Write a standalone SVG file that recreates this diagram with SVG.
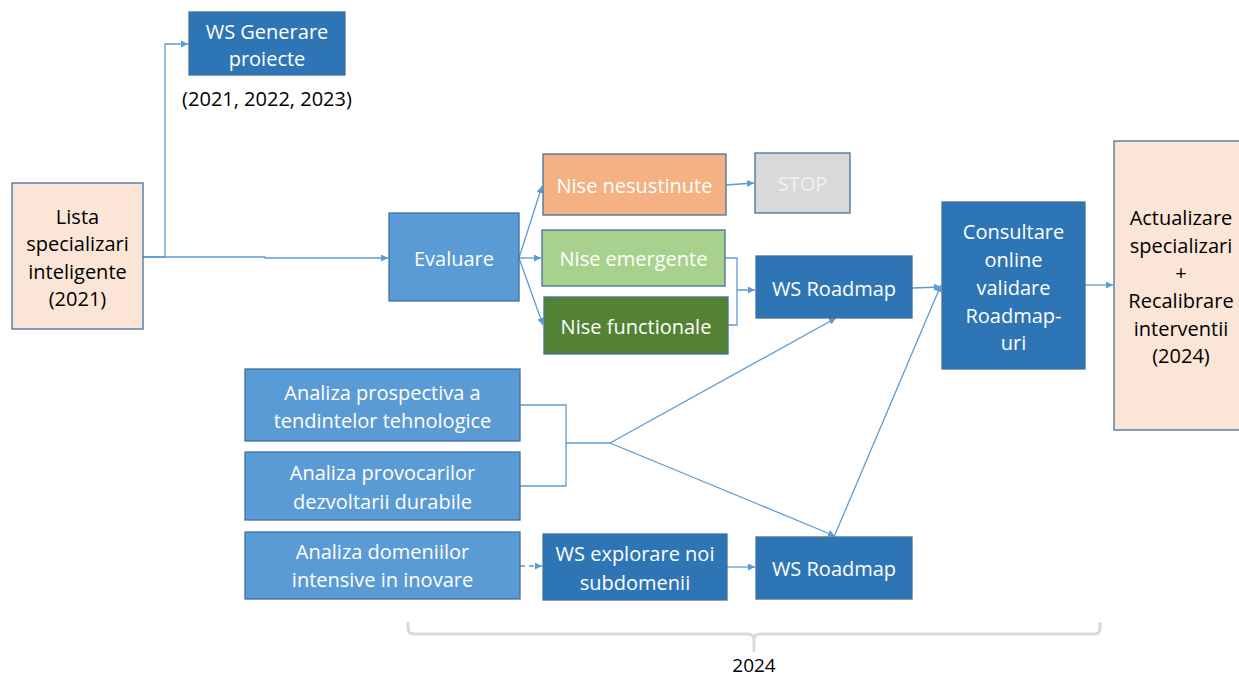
<svg xmlns="http://www.w3.org/2000/svg" width="1239" height="676" viewBox="0 0 1239 676">
  <style>
    text { font-family: "Open Sans", "Noto Sans", "Liberation Sans", sans-serif; font-size: 20px; text-anchor: middle; dominant-baseline: central; }
    .w { fill: #ffffff; }
    .k { fill: #000000; }
    .g { fill: #f2f2f2; }
    .box { stroke: #41719C; stroke-width: 1.3; }
    .dark { fill: #2E75B6; }
    .mid { fill: #5B9BD5; }
    .peach { fill: #FBE5D6; }
    .con { fill: none; stroke: #5B9BD5; stroke-width: 1.3; }
  </style>
  <defs>
    <marker id="arr" viewBox="0 0 10 10" refX="10" refY="5" markerWidth="7" markerHeight="7" orient="auto" markerUnits="userSpaceOnUse">
      <path d="M0,0 L10,5 L0,10 z" fill="#5B9BD5"/>
    </marker>
  </defs>

  <!-- connectors -->
  <g id="connectors">
    <path class="con" d="M143,257 H165 V44 H188" marker-end="url(#arr)"/>
    <path class="con" d="M143,257 H265 V258 H388" marker-end="url(#arr)"/>
    <path class="con" d="M519,258 L542,186" marker-end="url(#arr)"/>
    <path class="con" d="M519,258 H541" marker-end="url(#arr)"/>
    <path class="con" d="M519,258 L543,325" marker-end="url(#arr)"/>
    <path class="con" d="M726,185 L754,183" marker-end="url(#arr)"/>
    <path class="con" d="M725,258 H737 V290 H755" marker-end="url(#arr)"/>
    <path class="con" d="M728,325 H737 V290"/>
    <path class="con" d="M912,288 L941,287" marker-end="url(#arr)"/>
    <path class="con" d="M1085,285 H1113" marker-end="url(#arr)"/>
    <path class="con" d="M520,405 H566 V486 H520"/>
    <path class="con" d="M566,443 H610"/>
    <path class="con" d="M610,443 L836,318" marker-end="url(#arr)"/>
    <path class="con" d="M610,443 L835,536" marker-end="url(#arr)"/>
    <path class="con" d="M834,537 L941,285" marker-end="url(#arr)"/>
    <path class="con" d="M520,566 H542" stroke-dasharray="5,4" marker-end="url(#arr)"/>
    <path class="con" d="M727,567 H755" marker-end="url(#arr)"/>
  </g>

  <g id="lista">
    <rect class="box peach" x="12" y="183" width="131" height="146"/>
    <text class="k" x="77.5" y="216">Lista</text>
    <text class="k" x="77.5" y="243">specializari</text>
    <text class="k" x="77.5" y="271">inteligente</text>
    <text class="k" x="77.5" y="298">(2021)</text>
  </g>

  <g id="ws-generare">
    <rect class="box dark" x="189" y="12" width="156" height="63"/>
    <text class="w" x="267" y="31">WS Generare</text>
    <text class="w" x="267" y="58">proiecte</text>
    <text class="k" x="267" y="98">(2021, 2022, 2023)</text>
  </g>

  <g id="evaluare">
    <rect class="box mid" x="389" y="213" width="130" height="88"/>
    <text class="w" x="454" y="258">Evaluare</text>
  </g>

  <g id="nise-nesustinute">
    <rect class="box" fill="#F4B183" x="543" y="154" width="183" height="61"/>
    <text class="w" x="634.5" y="185">Nise nesustinute</text>
  </g>

  <g id="stop">
    <rect class="box" fill="#D9D9D9" x="755" y="153" width="95" height="60"/>
    <text class="g" x="802.5" y="183">STOP</text>
  </g>

  <g id="nise-emergente">
    <rect class="box" fill="#A9D18E" x="542" y="230" width="183" height="56"/>
    <text class="w" x="633.5" y="258">Nise emergente</text>
  </g>

  <g id="nise-functionale">
    <rect class="box" fill="#548235" x="544" y="297" width="184" height="57"/>
    <text class="w" x="636" y="326">Nise functionale</text>
  </g>

  <g id="ws-roadmap-1">
    <rect class="box dark" x="756" y="256" width="156" height="62"/>
    <text class="w" x="834" y="288">WS Roadmap</text>
  </g>

  <g id="consultare">
    <rect class="box dark" x="942" y="202" width="143" height="167"/>
    <text class="w" x="1013.5" y="231">Consultare</text>
    <text class="w" x="1013.5" y="259">online</text>
    <text class="w" x="1013.5" y="287">validare</text>
    <text class="w" x="1013.5" y="315">Roadmap-</text>
    <text class="w" x="1013.5" y="342">uri</text>
  </g>

  <g id="actualizare">
    <rect class="box peach" x="1114" y="141" width="130" height="289"/>
    <text class="k" x="1181" y="217">Actualizare</text>
    <text class="k" x="1181" y="245">specializari</text>
    <text class="k" x="1181" y="272">+</text>
    <text class="k" x="1181" y="300">Recalibrare</text>
    <text class="k" x="1181" y="328">interventii</text>
    <text class="k" x="1181" y="355">(2024)</text>
  </g>

  <g id="analiza-prospectiva">
    <rect class="box mid" x="245" y="369" width="275" height="72"/>
    <text class="w" x="382.5" y="392">Analiza prospectiva a</text>
    <text class="w" x="382.5" y="420">tendintelor tehnologice</text>
  </g>

  <g id="analiza-provocarilor">
    <rect class="box mid" x="245" y="452" width="275" height="68"/>
    <text class="w" x="382.5" y="472">Analiza provocarilor</text>
    <text class="w" x="382.5" y="501">dezvoltarii durabile</text>
  </g>

  <g id="analiza-domeniilor">
    <rect class="box mid" x="245" y="532" width="275" height="67"/>
    <text class="w" x="382.5" y="551">Analiza domeniilor</text>
    <text class="w" x="382.5" y="579">intensive in inovare</text>
  </g>

  <g id="ws-explorare">
    <rect class="box dark" x="543" y="534" width="184" height="66"/>
    <text class="w" x="635" y="553">WS explorare noi</text>
    <text class="w" x="635" y="582">subdomenii</text>
  </g>

  <g id="ws-roadmap-2">
    <rect class="box dark" x="756" y="537" width="156" height="62"/>
    <text class="w" x="834" y="568">WS Roadmap</text>
  </g>

  <!-- 2024 timeline brace -->
  <g id="brace-2024">
    <path d="M408,622 V628 Q408,634 414,634 H748 Q754,634 754,640 V652 M754,640 Q754,634 760,634 H1094 Q1100,634 1100,628 V622" fill="none" stroke="#D9D9D9" stroke-width="3"/>
    <text class="k" x="754" y="665" style="font-size:19px">2024</text>
  </g>
</svg>
